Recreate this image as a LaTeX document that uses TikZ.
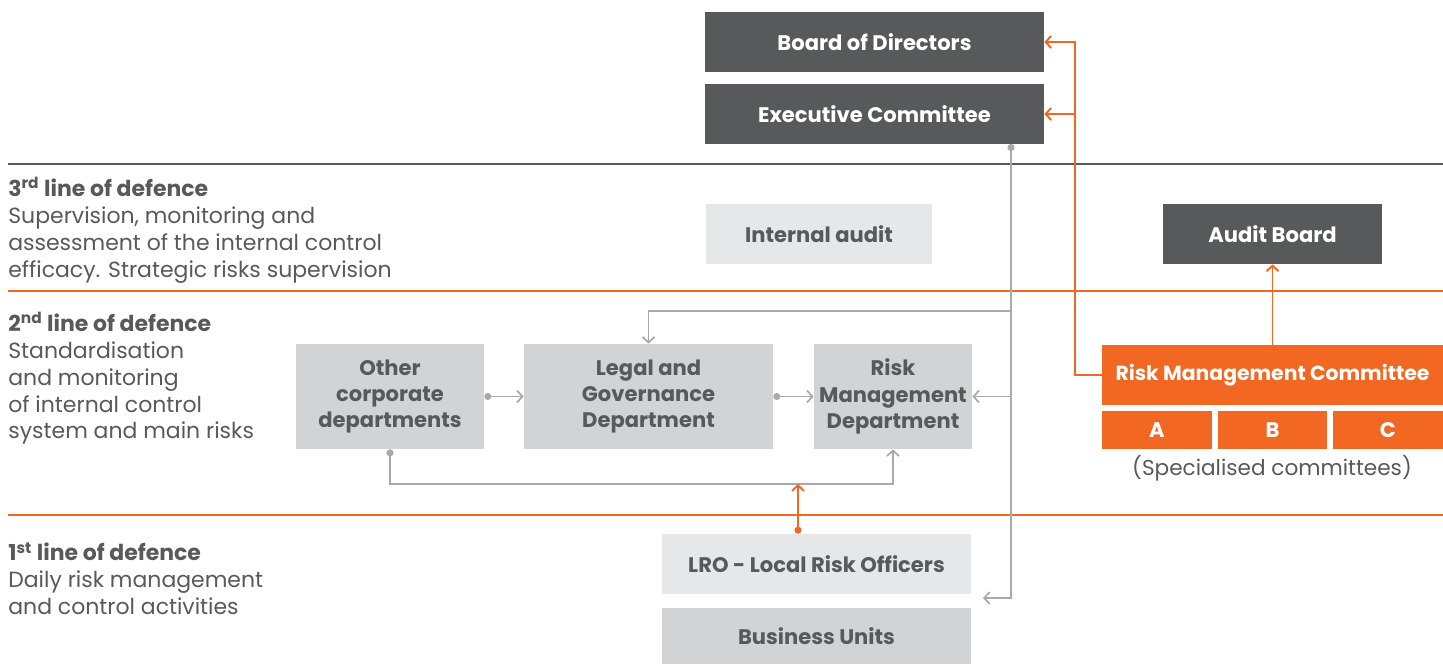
\documentclass[tikz,border=0pt]{standalone}
\usepackage{fontspec}
\setmainfont{Poppins}
\usepackage{tikz}
\usetikzlibrary{arrows.meta,positioning,calc}
\definecolor{ink}{HTML}{58595B}
\definecolor{slab}{HTML}{D1D3D4}
\definecolor{pale}{HTML}{E6E7E8}
\definecolor{flame}{HTML}{F26722}
\definecolor{wire}{HTML}{A7A9AC}

\begin{document}
\begin{tikzpicture}[
  x=0.02cm, y=-0.02cm,
  every node/.style={align=center},
  box/.style={inner sep=0pt,text=ink,minimum height=1.2cm,
              font=\bfseries\fontsize{12}{15}\selectfont},
  darkbox/.style={box,fill=ink,text=white},
  palebox/.style={box,fill=pale},
  slabbox/.style={box,fill=slab,minimum height=2.1cm},
  hotbox/.style={box,fill=flame,text=white},
  lane/.style={anchor=north west,align=left,text=ink,inner sep=0pt,
               font=\fontsize{12.5}{15.3}\selectfont},
  greyarr/.style={{Circle[length=1.4mm]}-{Straight Barb[length=1.1mm,width=2.4mm]},wire,line width=1pt},
  plainarr/.style={-{Straight Barb[length=1.1mm,width=2.4mm]},wire,line width=1pt},
  hotarr/.style={-{Straight Barb[length=1.1mm,width=2.4mm]},flame,line width=1.1pt},
  hotdot/.style={{Circle[length=1.4mm]}-{Straight Barb[length=1.1mm,width=2.4mm]},flame,line width=1.1pt}
]
\useasboundingbox (0,0) rectangle (1443,664);

% separators between the lines of defence
\draw[ink,line width=1.2pt] (8,164) -- (1443,164);
\draw[flame,line width=1.2pt] (8,291) -- (1443,291);
\draw[flame,line width=1.2pt] (8,515) -- (1443,515);

% TOP: governing bodies
\node[darkbox,minimum width=6.78cm] (board) at (874.5,42) {Board of Directors};
\node[darkbox,minimum width=6.78cm] (exec)  at (874.5,114) {Executive Committee};

% 3rd line
\node[lane] (l3) at (8,177) {\textbf{3\textsuperscript{rd} line of defence}\\
  Supervision, monitoring and\\assessment of the internal control\\
  efficacy. Strategic risks supervision};
\node[palebox,minimum width=4.52cm] (audit) at (819,234) {Internal audit};
\node[darkbox,minimum width=4.38cm] (auditb) at (1272.5,234) {Audit Board};

% 2nd line
\node[lane] (l2) at (8,312) {\textbf{2\textsuperscript{nd} line of defence}\\
  Standardisation\\and monitoring\\of internal control\\system and main risks};
\node[slabbox,minimum width=3.76cm] (other) at (390,396.5) {Other\\corporate\\departments};
\node[slabbox,minimum width=4.98cm] (legal) at (648.5,396.5) {Legal and\\Governance\\Department};
\node[slabbox,minimum width=3.16cm] (riskd) at (893,396.5) {Risk\\Management\\Department};

\node[hotbox,minimum width=6.82cm,font=\bfseries\fontsize{11.6}{14}\selectfont] (rmc) at (1272.5,375) {Risk Management Committee};
\node[hotbox,minimum width=2.2cm,minimum height=0.76cm] (ca) at (1157,430) {A};
\node[hotbox,minimum width=2.18cm,minimum height=0.76cm] (cb) at (1272.5,430) {B};
\node[hotbox,minimum width=2.2cm,minimum height=0.76cm] (cc) at (1388,430) {C};
\node[text=ink,font=\fontsize{12.3}{14}\selectfont] (spec) at (1272,468) {(Specialised committees)};

% 1st line
\node[lane] (l1) at (8,542) {\textbf{1\textsuperscript{st} line of defence}\\
  Daily risk management\\and control activities};
\node[palebox,minimum width=6.18cm] (lro) at (816.5,564) {LRO - Local Risk Officers};
\node[slabbox,minimum width=6.18cm,minimum height=1.12cm] (bu) at (816.5,636) {Business Units};

% grey reporting lines
\coordinate (trunk) at (1011,144);
\coordinate (gap) at (983,598);
\coordinate (split) at (1011,311);
\coordinate (under) at (390,484);
\draw[greyarr] (trunk) |- (gap);
\draw[plainarr] (split) -| (legal.north);
\draw[plainarr] (trunk |- riskd.east) -- (riskd.east);
\draw[greyarr] (other.east) -- (legal.west);
\draw[greyarr] (legal.east) -- (riskd.west);
\draw[greyarr] (other.south) -- (under) -| (riskd.south);

% orange reporting lines
\coordinate (joint) at (798,484);
\coordinate (bend) at (1075,375);
\draw[hotdot] (lro.north -| joint) -- (joint);
\draw[hotarr] (rmc.west) -- (bend) |- (board.east);
\draw[hotarr] (bend |- exec.east) -- (exec.east);
\draw[hotarr] (rmc.north) -- (auditb.south);
\end{tikzpicture}
\end{document}
